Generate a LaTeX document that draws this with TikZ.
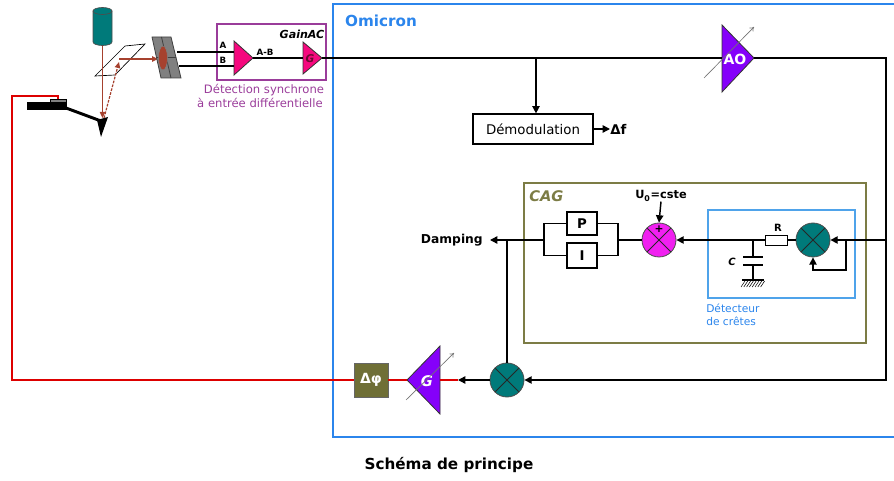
\documentclass[tikz,border=0pt]{standalone}
\usepackage{fontspec}
\setmainfont{DejaVu Sans}
\usetikzlibrary{arrows.meta,calc}
\definecolor{omiblue}{HTML}{2B85EC}
\definecolor{cagolive}{HTML}{7C7C45}
\definecolor{dphiolive}{HTML}{6F6F36}
\definecolor{multteal}{HTML}{007A7A}
\definecolor{amppink}{HTML}{F5087E}
\definecolor{gainred}{HTML}{6A0A30}
\definecolor{ampviolet}{HTML}{8500FA}
\definecolor{summag}{HTML}{F020F0}
\definecolor{wirered}{HTML}{DD0000}
\definecolor{beambrown}{HTML}{A6412E}
\definecolor{syncpurple}{HTML}{9A3C9A}
\definecolor{peakblue}{HTML}{4FA3EA}
\begin{document}
\begin{tikzpicture}[x=0.75pt,y=-0.75pt,
  wire/.style={line width=1.1pt},
  redwire/.style={wirered,line width=1.1pt},
  sig/.style={wire,-{Triangle[length=5.5pt,width=5.5pt]}},
  beam/.style={beambrown,line width=0.9pt,-{Triangle[length=4.5pt,width=4pt]}},
  xcross/.style={path picture={\draw[black!85,line width=0.6pt]
      (path picture bounding box.north west)--(path picture bounding box.south east)
      (path picture bounding box.north east)--(path picture bounding box.south west);}},
  mult/.style={circle,draw=black!70,line width=0.6pt,fill=multteal,minimum size=25.5pt,inner sep=0pt,xcross},
  summer/.style={circle,draw=black!70,line width=0.6pt,fill=summag,minimum size=25.5pt,inner sep=0pt,xcross},
  blockbox/.style={draw,line width=0.9pt,fill=white,inner sep=0pt},
  varamp/.style={black!55,line width=0.5pt,-{To[length=3pt,width=4pt]}},
  ampshape/.style={draw=black!80,line width=0.6pt},
  tag/.style={inner sep=0pt},
]
\useasboundingbox (0,0) rectangle (894,481);

% ---------- frames ----------
\draw[omiblue,line width=1.3pt] (898,4) -- (333,4) -- (333,437) -- (898,437);
\node[tag,font=\bfseries\fontsize{11.4}{13}\selectfont,text=omiblue] (omi) at (381,21) {Omicron};

\draw[cagolive,line width=1.2pt] (524,183) rectangle (866,343);
\node[tag,anchor=west,font=\bfseries\itshape\fontsize{11}{13}\selectfont,text=cagolive] (cag) at (529,196) {CAG};

\draw[peakblue,line width=0.8pt] (708,210) rectangle (855,298);
\node[tag,anchor=west,font=\fontsize{8}{10}\selectfont,text=omiblue] (peak1) at (706,308) {Détecteur};
\node[tag,anchor=west,font=\fontsize{8}{10}\selectfont,text=omiblue] (peak2) at (706,321) {de crêtes};

% ---------- optical head ----------
% laser
\filldraw[fill=multteal,draw=black!70,line width=0.5pt] (93,11) -- (93,42)
  arc[start angle=180,end angle=0,x radius=9.5,y radius=3.5] -- (112,11) -- cycle;
\filldraw[fill=multteal,draw=black!70,line width=0.5pt] (102.5,11) ellipse[x radius=9.5,y radius=3.5];
\coordinate (lbot) at (102.5,46);
% beam splitter plate
\draw[line width=0.5pt] (95,76) -- (115,75) -- (145,44) -- (125,46) -- cycle;
% piezo, cantilever and tip
\node[fill=black,minimum width=30pt,minimum height=6pt,inner sep=0pt] (piezo) at (47,106) {};
\node[fill=black!50,draw=black,line width=0.4pt,minimum width=12pt,minimum height=2.2pt,inner sep=0pt] (pzcap) at (58,100.5) {};
\draw[line width=2.2pt] (66,108) -- (101,121);
\fill (97,120) -- (108,117) -- (101,137) -- cycle;
\coordinate (hit) at (102.5,118);
% beams
\draw[beam] (lbot) -- (hit);
\draw[beam,dash pattern=on 2pt off 1pt] (104,118) -- (119,62);
\draw[beam,line width=1.1pt] (119,59) -- (158,59);
% split photodiode
\filldraw[fill=black!50,draw=black!75,line width=0.6pt] (152,37) -- (171,37) -- (181,78) -- (161,78) -- cycle;
\draw[black!75,line width=0.6pt] (161.5,37) -- (171,78) (156.5,57.5) -- (176,57.5);
\filldraw[fill=beambrown,draw=black!50,line width=0.4pt] (163,58) ellipse[x radius=4.5,y radius=12];
\coordinate (pda) at (177,52);
\coordinate (pdb) at (179,66);

% ---------- differential lock-in ----------
\draw[syncpurple,line width=0.8pt] (217,24) rectangle (326,80);
\filldraw[fill=amppink,ampshape] (234,41) -- (253,58) -- (234,75) -- cycle;
\filldraw[fill=amppink,ampshape] (303,42) -- (322,58) -- (303,74) -- cycle;
\coordinate (ina) at (234,52);
\coordinate (inb) at (234,66);
\coordinate (diffout) at (253,58);
\coordinate (gacin) at (303,58);
\coordinate (gacout) at (322,58);
\draw[wire] (pda) -- (ina);
\draw[wire] (pdb) -- (inb);
\draw[wire] (diffout) -- (gacin);
\node[tag,font=\bfseries\fontsize{6.5}{8}\selectfont] (la) at (223,45) {A};
\node[tag,font=\bfseries\fontsize{6.5}{8}\selectfont] (lb) at (223,60) {B};
\node[tag,font=\bfseries\fontsize{6.5}{8}\selectfont] (lab) at (265,52) {A-B};
\node[tag,font=\bfseries\itshape\fontsize{8}{9}\selectfont,text=gainred] (lg) at (310,58.5) {G};
\node[tag,font=\bfseries\itshape\fontsize{8.3}{10}\selectfont] (gac) at (302,34) {GainAC};
\node[tag,font=\fontsize{8.7}{10}\selectfont,text=syncpurple] (sync1) at (264,90) {Détection synchrone};
\node[tag,font=\fontsize{8.7}{10}\selectfont,text=syncpurple] (sync2) at (260,103) {à entrée différentielle};

% ---------- AO gain ----------
\filldraw[fill=ampviolet,ampshape] (722,25) -- (754,58) -- (722,92) -- cycle;
\coordinate (aoin) at (722,58);
\coordinate (aoout) at (754,58);
\node[tag,text=white,font=\bfseries\fontsize{10.5}{12}\selectfont] (ao) at (735,59) {AO};
\draw[varamp] (704,78) -- (754,27);

% ---------- main loop ----------
\coordinate (tap) at (536,58);
\coordinate (ne) at (886,58);
\coordinate (pk) at (886,240);
\coordinate (se) at (886,380);
\node[mult] (bm) at (507,380) {};
\node[mult] (pm) at (813,240) {};

\draw[wire] (gacout) -- (aoin);
\draw[sig] (aoout) -- (ne) -- (se) -- (bm.east);

% demodulation branch
\node[blockbox,minimum width=90pt,minimum height=22.5pt,font=\fontsize{10}{12}\selectfont] (demod) at (533,129) {Démodulation};
\draw[sig] (tap) -- (tap |- demod.north);
\node[tag,anchor=west,font=\bfseries\fontsize{10}{12}\selectfont] (df) at (610,129) {Δf};
\draw[sig] (demod.east) -- (df.west);

% peak detector
\draw[sig] (pk) -- (pm.east);
\coordinate (fbj) at (846,240);
\draw[sig] (fbj) -- ++(0,30) -| (pm.south);
\node[draw,fill=white,line width=0.7pt,minimum width=16.5pt,minimum height=7.5pt,inner sep=0pt] (res) at (776,240) {};
\node[tag,font=\bfseries\fontsize{7.5}{9}\selectfont] (rl) at (778,228) {R};
\draw[wire] (pm.west) -- (res.east);
\coordinate (cj) at (753,240);
\draw[wire] (cj) -- (753,257);
\draw[line width=2pt] (743,257) -- (763,257) (743,265) -- (763,265);
\draw[wire] (753,265) -- (753,280);
\draw[line width=2pt] (742,280) -- (764,280);
\foreach \i in {0,...,7} \draw[line width=0.4pt] (745+\i*2.8,281) -- ++(-4,6);
\node[tag,font=\bfseries\itshape\fontsize{7.5}{9}\selectfont] (cl) at (732,262) {C};

% set-point summer and PI
\node[summer] (sm) at (659,240) {};
\node[tag,font=\bfseries\fontsize{8}{8}\selectfont] (plus) at (659,229.5) {+};
\draw[sig] (res.west) -- (sm.east);
\node[tag,font=\bfseries\fontsize{8.5}{10}\selectfont] (u0) at (661,196) {U\textsubscript{0}=cste};
\draw[sig] (u0.south) -- (sm.north);

\node[blockbox,minimum width=22.5pt,minimum height=17.25pt,font=\bfseries\fontsize{10}{12}\selectfont] (pb) at (582,223.5) {P};
\node[blockbox,minimum width=22.5pt,minimum height=18.75pt,font=\bfseries\fontsize{10}{12}\selectfont] (ib) at (582,255.5) {I};
\coordinate (pir) at (618,240);
\coordinate (pil) at (544,240);
\draw[wire] (sm.west) -- (pir);
\draw[wire] (pb.east) -| (pir) |- (ib.east);
\draw[wire] (pb.west) -| (pil) |- (ib.west);
\node[tag,anchor=east,font=\bfseries\fontsize{9.2}{11}\selectfont] (damp) at (483,240) {Damping};
\coordinate (dtip) at (490,240);
\draw[sig] (pil) -- (dtip);
\coordinate (dj) at (507,240);
\draw[wire] (dj) -- (bm.north);

% excitation path
\coordinate (gin) at (458,380);
\draw[sig] (bm.west) -- (gin);
\filldraw[fill=ampviolet,ampshape] (440,346) -- (440,414) -- (407,380) -- cycle;
\coordinate (gright) at (440,380);
\coordinate (gtip) at (407,380);
\node[tag,text=white,font=\bfseries\itshape\fontsize{11}{13}\selectfont] (gl) at (427,381) {G};
\draw[varamp] (406,400) -- (454,353);
\node[fill=dphiolive,draw=black!60,line width=0.5pt,minimum size=25.5pt,inner sep=0pt,text=white,font=\bfseries\fontsize{10.5}{12}\selectfont] (dphi) at (371,380) {Δφ};
\draw[redwire] (gin) -- (gright);
\draw[redwire] (gtip) -- (dphi.east);
\coordinate (wb) at (12,380);
\coordinate (wt) at (12,96);
\coordinate (wp) at (58,96);
\draw[redwire] (dphi.west) -- (wb) -- (wt) -- (wp) -- (pzcap.north);

% caption
\node[tag,font=\bfseries\fontsize{11.4}{13}\selectfont] (title) at (449,465) {Schéma de principe};
\end{tikzpicture}
\end{document}
